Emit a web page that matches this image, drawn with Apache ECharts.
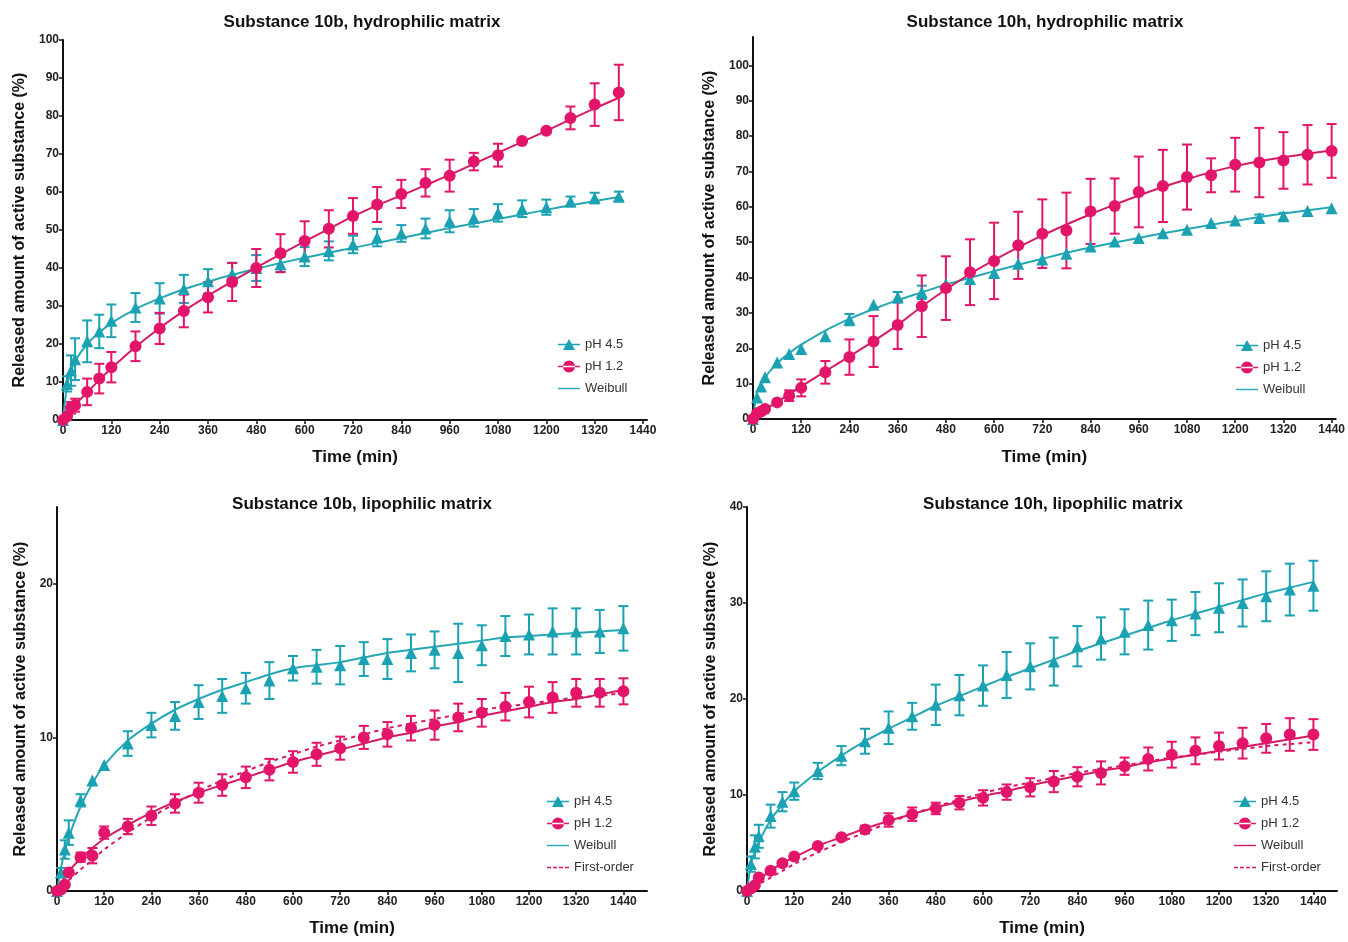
<!DOCTYPE html>
<html>
<head>
<meta charset="utf-8">
<script src="https://cdn.jsdelivr.net/npm/echarts@6/dist/echarts.min.js"></script>
<style>
  html, body { margin: 0; padding: 0; background: #fff; }
  .panel { position: absolute; width: 674px; height: 471px; }
</style>
</head>
<body>
<div id="p1" class="panel" style="left:0;top:0"></div>
<div id="p2" class="panel" style="left:674px;top:0"></div>
<div id="p3" class="panel" style="left:0;top:471px"></div>
<div id="p4" class="panel" style="left:674px;top:471px"></div>
<script>
// sampling times (min)
const timeA = [0, 10, 20, 30, 60, 90, 120, 180, 240, 300, 360, 420, 480, 540, 600, 660, 720, 780, 840, 900, 960, 1020, 1080, 1140, 1200, 1260, 1320, 1380]
const timeB = timeA.concat([1440])
const xTicks = [0, 120, 240, 360, 480, 600, 720, 840, 960, 1080, 1200, 1320, 1440]

// Substance 10b, hydrophilic matrix
const p1Ph45 = [0, 9.5, 13, 16, 20.7, 23.3, 26.1, 29.6, 32, 34.5, 36.5, 38.4, 40, 41, 43, 44.5, 46.2, 48, 49.1, 50.4, 52.3, 53.2, 54.5, 55.6, 56, 57.5, 58.4, 58.8]
const p1Ph45Sd = [0, 2, 4, 5.5, 5.5, 4.4, 4.3, 3.8, 4, 3.7, 3.2, 3, 3.4, 2, 2.5, 2.5, 2.3, 2.3, 2.2, 2.6, 2.9, 2.3, 2.3, 2.2, 2, 1.3, 1.4, 1.3]
const p1Ph45Fit = [0, 9, 12.8, 15.5, 20, 23, 25.5, 29.2, 32, 34.4, 36.4, 38.2, 39.8, 41.3, 42.7, 44, 45.3, 46.6, 47.9, 49.2, 50.5, 51.7, 52.9, 54.1, 55.3, 56.5, 57.6, 58.7]
const p1Ph12 = [0, 1, 3.2, 3.9, 7.4, 10.9, 13.9, 19.4, 24.1, 28.7, 32.3, 36.3, 40, 43.9, 47.1, 50.3, 53.7, 56.7, 59.5, 62.4, 64.3, 68, 69.7, 73.4, 76.1, 79.5, 83, 86.2]
const p1Ph12Sd = [0, 0.8, 1.5, 1.7, 3.5, 3.9, 4, 3.9, 4.1, 4.3, 4, 5, 5, 5, 5.2, 4.9, 4.7, 4.6, 3.7, 3.6, 4.2, 2.3, 3, 0, 0, 3, 5.6, 7.3]
const p1Ph12Fit = [0, 1.5, 2.8, 4, 7.3, 10.5, 13.6, 19.2, 24.2, 28.7, 32.7, 36.5, 40.1, 43.6, 47, 50.3, 53.6, 56.5, 59.1, 61.8, 64.5, 67.4, 70.3, 73.2, 76.1, 79.1, 82, 84.8]

// Substance 10h, hydrophilic matrix
const p2Ph45 = [0, 6.1, 9.2, 11.8, 16, 18.4, 19.8, 23.4, 28.1, 32.3, 34.4, 35.8, 38.2, 39.6, 41.3, 43.9, 45.1, 46.7, 48.8, 50.2, 51.2, 52.5, 53.5, 55.4, 56.1, 56.8, 57.3, 58.8, 59.6]
const p2Ph45Sd = [0, 0, 0, 0, 0, 0, 0, 0, 1.6, 0, 1.5, 1.9, 0, 0, 0, 0, 0, 0, 0, 0, 0, 0, 0, 0, 0, 1, 1, 0, 0]
const p2Ph45Fit = [0, 7.6, 10, 11.8, 15.8, 18.6, 21, 25, 28.3, 31.1, 33.6, 35.8, 38, 39.9, 41.8, 43.6, 45.3, 47, 48.5, 49.9, 51.2, 52.5, 53.7, 54.9, 56, 57.1, 58.1, 59, 59.9]
const p2Ph12 = [0, 1.6, 2.1, 2.8, 4.7, 6.6, 8.8, 13.2, 17.5, 21.9, 26.6, 31.9, 37, 41.5, 44.7, 49.1, 52.4, 53.3, 58.7, 60.2, 64.2, 65.9, 68.4, 68.9, 71.9, 72.5, 73.1, 74.7, 75.8]
const p2Ph12Sd = [0, 0, 0, 0, 0, 1.5, 2.4, 3.2, 5, 7.2, 6.8, 8.7, 9, 9.3, 10.8, 9.5, 9.7, 10.7, 9.2, 7.8, 10, 10.2, 9.2, 4.8, 7.6, 9.8, 8, 8.4, 7.6]
const p2Ph12Fit = [0, 0.9, 1.7, 2.6, 4.8, 7, 9.2, 13.5, 17.7, 22, 26.6, 31.8, 36.6, 41, 44.9, 48.5, 51.9, 55, 57.9, 60.6, 63.2, 65.6, 67.8, 69.8, 71.5, 72.9, 74, 75, 75.9]

// Substance 10b, lipophilic matrix
const p3Ph45 = [0, 1.2, 2.7, 3.8, 5.9, 7.2, 8.2, 9.6, 10.8, 11.4, 12.3, 12.7, 13.2, 13.7, 14.5, 14.6, 14.7, 15.1, 15.1, 15.5, 15.7, 15.5, 16, 16.6, 16.7, 16.9, 16.9, 16.9, 17.1]
const p3Ph45Sd = [0, 0.3, 0.6, 0.8, 0.4, 0, 0, 0.8, 0.8, 0.9, 1.1, 1.1, 1, 1.2, 0.8, 1.1, 1.25, 1.1, 1.3, 1.2, 1.2, 1.9, 1.3, 1.3, 1.3, 1.5, 1.5, 1.4, 1.45]
const p3Ph45Fit = [0, 1.5, 2.6, 3.5, 5.5, 7, 8.2, 9.8, 10.9, 11.8, 12.5, 13.1, 13.6, 14.1, 14.5, 14.7, 14.9, 15.2, 15.5, 15.7, 15.9, 16.1, 16.3, 16.5, 16.6, 16.7, 16.8, 16.9, 17]
const p3Ph12 = [0, 0.1, 0.4, 1.2, 2.2, 2.3, 3.8, 4.2, 4.9, 5.7, 6.4, 6.9, 7.4, 7.9, 8.4, 8.9, 9.3, 10, 10.2, 10.6, 10.8, 11.3, 11.6, 12, 12.3, 12.6, 12.9, 12.9, 13]
const p3Ph12Sd = [0, 0, 0, 0, 0.3, 0.5, 0.4, 0.5, 0.6, 0.6, 0.65, 0.7, 0.7, 0.7, 0.7, 0.75, 0.75, 0.75, 0.8, 0.8, 0.95, 0.9, 0.9, 0.9, 1, 1, 0.9, 0.9, 0.85]
const p3Ph12Fit = [0, 0.5, 0.9, 1.3, 2.1, 2.8, 3.4, 4.3, 5.1, 5.8, 6.4, 6.9, 7.4, 7.9, 8.4, 8.8, 9.2, 9.6, 10, 10.3, 10.7, 11, 11.4, 11.7, 12, 12.3, 12.5, 12.8, 13.1]
const p3Ph12First = [0, 0.25, 0.5, 0.7, 1.4, 2, 2.7, 3.8, 4.8, 5.7, 6.5, 7.2, 7.8, 8.4, 8.9, 9.4, 9.8, 10.2, 10.6, 10.9, 11.2, 11.5, 11.8, 12, 12.2, 12.4, 12.6, 12.7, 12.9]

// Substance 10h, lipophilic matrix
const p4Ph45 = [0, 2.8, 4.6, 5.7, 7.8, 9.3, 10.4, 12.5, 14.1, 15.6, 17, 18.2, 19.4, 20.4, 21.4, 22.5, 23.4, 23.9, 25.5, 26.3, 27, 27.7, 28.2, 28.9, 29.5, 30, 30.7, 31.4, 31.8]
const p4Ph45Sd = [0, 0.8, 1.2, 1.2, 1.2, 1, 0.9, 0.85, 1, 1.3, 1.7, 1.4, 2.1, 2.1, 2.1, 2.4, 2.4, 2.5, 2.1, 2.2, 2.35, 2.55, 2.15, 2.25, 2.55, 2.45, 2.6, 2.7, 2.6]
const p4Ph45Fit = [0, 2.8, 4.1, 5.1, 7.4, 9, 10.4, 12.4, 14.1, 15.6, 16.9, 18.1, 19.3, 20.3, 21.3, 22.3, 23.2, 24.1, 25, 25.8, 26.6, 27.4, 28.2, 28.9, 29.6, 30.3, 31, 31.6, 32.2]
const p4Ph12 = [0, 0.25, 0.6, 1.4, 2.1, 2.9, 3.6, 4.7, 5.6, 6.4, 7.4, 8, 8.6, 9.2, 9.7, 10.3, 10.8, 11.4, 11.9, 12.3, 13, 13.75, 14.2, 14.6, 15.1, 15.4, 15.9, 16.3, 16.3]
const p4Ph12Sd = [0, 0, 0, 0, 0, 0, 0, 0, 0, 0.4, 0.7, 0.7, 0.6, 0.7, 0.8, 0.8, 0.95, 1.1, 1, 1.2, 0.9, 1.2, 1.35, 1.4, 1.4, 1.6, 1.5, 1.7, 1.6]
const p4Ph12Fit = [0, 0.4, 0.8, 1.2, 2.1, 2.9, 3.5, 4.7, 5.6, 6.5, 7.3, 8, 8.7, 9.3, 9.9, 10.4, 11, 11.5, 12, 12.5, 12.9, 13.4, 13.8, 14.2, 14.6, 15, 15.4, 15.8, 16.2]
const p4Ph12First = [0, 0.25, 0.5, 0.7, 1.4, 2.1, 2.8, 4, 5.1, 6.1, 7.1, 8, 8.8, 9.5, 10.2, 10.8, 11.3, 11.8, 12.3, 12.7, 13.1, 13.5, 13.9, 14.2, 14.5, 14.8, 15.1, 15.3, 15.5]

const CYAN = '#1aa2b3'
const PINK = '#e3156b'
const CYAN_LINE = '#26a8b4'
const PINK_LINE = '#d71a66'
const FONT = 'Arial, "Liberation Sans", sans-serif'

// legend icons, all drawn in a 22 x 12 box
const TRI_ICON = 'path://M0,5.3H22V6.7H0Z M5,11.5L11,0.5L17,11.5Z'
const CIRC_ICON = 'path://M0,5.3H22V6.7H0Z M5,6a6,6 0 1,0 12,0a6,6 0 1,0 -12,0Z'
const LINE_ICON = 'path://M0,0H22V1.4H0Z'
const DASH_ICON = 'path://M0,0H4V1.4H0Z M6,0H10V1.4H6Z M12,0H16V1.4H12Z M18,0H22V1.4H18Z'

const pairs = (t, v) => t.map((x, i) => [x, v[i]])
const errData = (t, v, sd) => t.map((x, i) => [x, v[i] - sd[i], v[i] + sd[i]]).filter(d => d[2] > d[1])

function errorBars(color) {
  return function (params, api) {
    const x = api.value(0)
    const lo = api.coord([x, api.value(1)])
    const hi = api.coord([x, api.value(2)])
    const w = 5
    const st = { stroke: color, lineWidth: 2 }
    return {
      type: 'group',
      children: [
        { type: 'line', shape: { x1: lo[0], y1: lo[1], x2: hi[0], y2: hi[1] }, style: st },
        { type: 'line', shape: { x1: hi[0] - w, y1: hi[1], x2: hi[0] + w, y2: hi[1] }, style: st },
        { type: 'line', shape: { x1: lo[0] - w, y1: lo[1], x2: lo[0] + w, y2: lo[1] }, style: st },
      ],
    }
  }
}

function makeOption(c) {
  const axisCommon = {
    type: 'value',
    min: 0,
    splitLine: { show: false },
    axisLine: { show: true, onZero: false, lineStyle: { color: '#111', width: 2 } },
    axisTick: { show: true, length: 4, lineStyle: { color: '#111', width: 1.5 } },
    axisLabel: {
      color: '#222', fontSize: 12, fontWeight: 'bold', fontFamily: FONT, margin: 4,
      formatter: v => String(v),
    },
    nameLocation: 'middle',
    nameTextStyle: { color: '#111', fontWeight: 'bold', fontFamily: FONT },
  }
  const weibull45 = {
    name: 'Weibull', type: 'line', data: pairs(c.time, c.fit45), symbol: 'none',
    smooth: 0.3, lineStyle: { color: CYAN_LINE, width: 2 }, itemStyle: { color: CYAN_LINE }, z: 3,
  }
  const weibull12 = {
    name: 'Weibull', type: 'line', data: pairs(c.time, c.fit12), symbol: 'none',
    smooth: 0.3, lineStyle: { color: PINK_LINE, width: 2 }, itemStyle: { color: PINK_LINE }, z: 3,
  }
  const series = [
    { name: 'sd45', type: 'custom', renderItem: errorBars(CYAN), data: errData(c.time, c.ph45, c.sd45), z: 2, silent: true },
    { name: 'sd12', type: 'custom', renderItem: errorBars(PINK), data: errData(c.time, c.ph12, c.sd12), z: 2, silent: true },
  ]
  if (c.pinkLegend) series.push(weibull12, weibull45)
  else series.push(weibull45, weibull12)
  const legendData = [
    { name: 'pH 4.5', icon: TRI_ICON },
    { name: 'pH 1.2', icon: CIRC_ICON },
    { name: 'Weibull', icon: LINE_ICON },
  ]
  if (c.first12) {
    series.push({
      name: 'First-order', type: 'line', data: pairs(c.time, c.first12), symbol: 'none',
      smooth: 0.3, lineStyle: { color: PINK_LINE, width: 2, type: [4, 4] }, itemStyle: { color: PINK_LINE }, z: 3,
    })
    legendData.push({ name: 'First-order', icon: DASH_ICON })
  }
  series.push(
    { name: 'pH 4.5', type: 'scatter', symbol: 'triangle', symbolSize: 12, data: pairs(c.time, c.ph45), itemStyle: { color: CYAN, opacity: 1 }, z: 4 },
    { name: 'pH 1.2', type: 'scatter', symbol: 'circle', symbolSize: 12, data: pairs(c.time, c.ph12), itemStyle: { color: PINK, opacity: 1 }, z: 5 },
  )
  return {
    backgroundColor: '#fff',
    animation: false,
    textStyle: { fontFamily: FONT },
    graphic: [{
      type: 'text', x: c.titleX, y: c.titleY,
      style: {
        text: c.title, font: 'bold 17px ' + FONT, fill: '#111',
        align: 'center', verticalAlign: 'middle', textAlign: 'center', textVerticalAlign: 'middle',
      },
    }],
    grid: c.grid,
    legend: {
      orient: 'vertical', left: c.legend[0], top: c.legend[1],
      itemWidth: 22, itemHeight: 12, itemGap: 9, selectedMode: false,
      textStyle: { fontSize: 13, color: '#333', fontFamily: FONT },
      data: legendData,
    },
    xAxis: Object.assign({}, axisCommon, {
      max: c.xMax,
      axisTick: Object.assign({}, axisCommon.axisTick, { customValues: xTicks }),
      axisLabel: Object.assign({}, axisCommon.axisLabel, { customValues: xTicks, margin: 5 }),
      name: 'Time (min)', nameGap: c.xGap,
      nameTextStyle: Object.assign({}, axisCommon.nameTextStyle, { fontSize: 17 }),
    }),
    yAxis: Object.assign({}, axisCommon, {
      max: c.yMax,
      axisTick: Object.assign({}, axisCommon.axisTick, { customValues: c.yTicks }),
      axisLabel: Object.assign({}, axisCommon.axisLabel, { customValues: c.yTicks }),
      name: 'Released amount of active substance (%)', nameGap: c.yGap,
      nameTextStyle: Object.assign({}, axisCommon.nameTextStyle, { fontSize: 16 }),
    }),
    series: series,
  }
}

const panels = [
  {
    id: 'p1', title: 'Substance 10b, hydrophilic matrix', titleX: 362, titleY: 22,
    grid: { left: 63, top: 40, width: 584, height: 383 },
    xMax: 1450, yMax: 100, yTicks: [0, 10, 20, 30, 40, 50, 60, 70, 80, 90, 100],
    xGap: 29, yGap: 32, legend: [553, 333],
    time: timeA, ph45: p1Ph45, sd45: p1Ph45Sd, fit45: p1Ph45Fit, ph12: p1Ph12, sd12: p1Ph12Sd, fit12: p1Ph12Fit,
  },
  {
    id: 'p2', title: 'Substance 10h, hydrophilic matrix', titleX: 371, titleY: 22,
    grid: { left: 79, top: 37, width: 584, height: 383 },
    xMax: 1450, yMax: 108, yTicks: [0, 10, 20, 30, 40, 50, 60, 70, 80, 90, 100],
    xGap: 30, yGap: 33, legend: [557, 334],
    time: timeB, ph45: p2Ph45, sd45: p2Ph45Sd, fit45: p2Ph45Fit, ph12: p2Ph12, sd12: p2Ph12Sd, fit12: p2Ph12Fit,
  },
  {
    id: 'p3', title: 'Substance 10b, lipophilic matrix', titleX: 362, titleY: 33,
    grid: { left: 57, top: 36, width: 590, height: 387 },
    xMax: 1500, yMax: 25, yTicks: [0, 10, 20],
    xGap: 29, yGap: 27, legend: [542, 319],
    time: timeB, ph45: p3Ph45, sd45: p3Ph45Sd, fit45: p3Ph45Fit, ph12: p3Ph12, sd12: p3Ph12Sd, fit12: p3Ph12Fit,
    first12: p3Ph12First,
  },
  {
    id: 'p4', title: 'Substance 10h, lipophilic matrix', titleX: 379, titleY: 33,
    grid: { left: 73, top: 36, width: 590, height: 387 },
    xMax: 1500, yMax: 40, yTicks: [0, 10, 20, 30, 40],
    xGap: 29, yGap: 27, legend: [555, 319], pinkLegend: true,
    time: timeB, ph45: p4Ph45, sd45: p4Ph45Sd, fit45: p4Ph45Fit, ph12: p4Ph12, sd12: p4Ph12Sd, fit12: p4Ph12Fit,
    first12: p4Ph12First,
  },
]

const charts = panels.map(p => {
  const chart = echarts.init(document.getElementById(p.id))
  chart.setOption(makeOption(p))
  return chart
})
window.addEventListener('resize', function () {
  charts.forEach(c => c.resize())
})
</script>
</body>
</html>
